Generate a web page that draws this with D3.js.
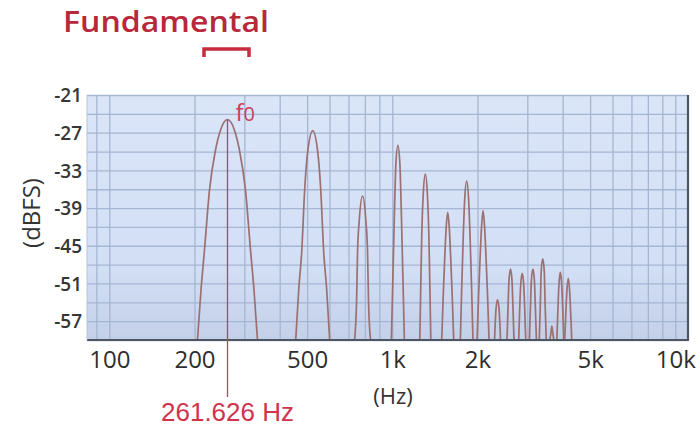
<!DOCTYPE html>
<html>
<head>
<meta charset="utf-8">
<script src="https://cdn.jsdelivr.net/npm/d3@7"></script>
<style>
  html, body { margin: 0; padding: 0; background: #ffffff; }
  svg { display: block; }
</style>
</head>
<body>
<svg id="chart" width="699" height="429"></svg>
<script>
// ---------- data ----------
const xTickValues = [100, 200, 500, 1000, 2000, 5000, 10000];
const xTickLabels = ["100", "200", "500", "1k", "2k", "5k", "10k"];
const yTickValues = [-21, -27, -33, -39, -45, -51, -57];
const yTickLabels = ["-21", "-27", "-33", "-39", "-45", "-51", "-57"];

const fundamentalHz = 261.626;
const fundamentalPeakDb = -24.9;
const fundamentalLabel = "261.626 Hz";
const titleText = "Fundamental";
const xAxisTitle = "(Hz)";
const yAxisTitle = "(dBFS)";

// spectrum peaks: [frequency Hz, level dBFS]
const peak1 = [[204.9,-60],[210.9,-52],[216.9,-45.7],[226.0,-36.1],[237.2,-29.8],[247.1,-26.6],[261.6,-24.9],[276.9,-26.6],[288.4,-29.8],[302.8,-36.1],[315.5,-45.7],[324.5,-52],[333.9,-60]];
const peak2 = [[455.7,-60],[467.0,-52],[478.5,-46],[490.3,-36],[502.4,-30],[523.3,-26.7],[545.0,-30],[558.5,-36],[572.3,-46],[586.4,-52],[600.9,-60]];
const peak3 = [[735.5,-60],[747.6,-54],[753.7,-46],[764.2,-41],[784.9,-37.1],[806.4,-41],[817.6,-46],[824.3,-54],[837.8,-60]];
const peak4 = [[992.6,-60],[1004.8,-50],[1017.1,-40],[1029.6,-32],[1046.5,-29.0],[1063.7,-32],[1076.7,-40],[1090.0,-50],[1103.3,-60]];
const peak5 = [[1250.8,-60],[1261.1,-51],[1271.4,-43],[1287.0,-36.6],[1308.1,-33.6],[1329.6,-36.6],[1345.9,-43],[1356.9,-51],[1368.0,-60]];
const peak6 = [[1495.0,-60],[1513.3,-53],[1532.0,-47],[1550.8,-42],[1569.8,-39.7],[1589.1,-42],[1608.6,-47],[1628.4,-53],[1648.3,-60]];
const peak7 = [[1739.8,-60],[1758.4,-52],[1779.9,-44],[1801.9,-37.7],[1831.4,-34.7],[1861.4,-37.7],[1884.3,-44],[1907.5,-52],[1927.8,-60]];
const peak8 = [[1993.3,-60],[2017.7,-53],[2042.5,-47],[2067.6,-42],[2093.0,-39.4],[2118.7,-42],[2144.7,-47],[2171.1,-53],[2197.7,-60]];
const peak9 = [[2297.8,-60],[2326.0,-55],[2354.6,-53.6],[2383.5,-55],[2412.8,-60]];
const peak10 = [[2542.8,-60],[2563.6,-55],[2584.5,-50.5],[2616.3,-48.7],[2648.4,-50.5],[2670.1,-55],[2691.9,-60]];
const peak11 = [[2797.0,-60],[2819.9,-55],[2843.0,-51.2],[2877.9,-49.4],[2913.2,-51.2],[2937.0,-55],[2961.1,-60]];
const peak12 = [[3051.3,-60],[3076.3,-55],[3101.4,-50.5],[3139.5,-48.7],[3178.1,-50.5],[3204.0,-55],[3230.2,-60]];
const peak13 = [[3305.5,-60],[3332.6,-55],[3359.8,-49],[3401.1,-47.1],[3442.9,-49],[3471.0,-55],[3499.4,-60]];
const peak14 = [[3603.7,-60],[3633.1,-59],[3662.8,-57.8],[3692.7,-59],[3722.9,-60]];
const peak15 = [[3814.2,-60],[3845.4,-55.5],[3876.8,-51.5],[3924.4,-49.2],[3972.6,-51.5],[4005.1,-55.5],[4037.8,-60]];
const peak16 = [[4068.4,-60],[4101.7,-56],[4135.2,-52.5],[4186.0,-50.2],[4237.4,-52.5],[4272.0,-56],[4306.9,-60]];
const peaks = [peak1, peak2, peak3, peak4, peak5, peak6, peak7, peak8, peak9, peak10, peak11, peak12, peak13, peak14, peak15, peak16];

// ---------- layout ----------
const plot = { left: 87, right: 688, top: 95, bottom: 340 };
const xDomain = [83.4, 11090];
const yDomain = [-60, -21];

const svg = d3.select("#chart");
const x = d3.scaleLog().domain(xDomain).range([plot.left, plot.right]);
const y = d3.scaleLinear().domain(yDomain).range([plot.bottom, plot.top]);

const defs = svg.append("defs");
const grad = defs.append("linearGradient").attr("id", "bg").attr("x1", 0).attr("y1", 0).attr("x2", 0).attr("y2", 1);
grad.append("stop").attr("offset", "0%").attr("stop-color", "#dae5f8");
grad.append("stop").attr("offset", "70%").attr("stop-color", "#d3dff5");
grad.append("stop").attr("offset", "100%").attr("stop-color", "#c3d0e8");
defs.append("clipPath").attr("id", "clip").append("rect")
  .attr("x", plot.left).attr("y", plot.top)
  .attr("width", plot.right - plot.left).attr("height", plot.bottom - plot.top);

// background
svg.append("rect")
  .attr("x", plot.left).attr("y", plot.top)
  .attr("width", plot.right - plot.left).attr("height", plot.bottom - plot.top)
  .attr("fill", "url(#bg)");

// grid
const gridColor = "#a5b6d2";
const gx = svg.append("g").attr("transform", `translate(0,${plot.bottom})`)
  .call(d3.axisBottom(x).tickValues(x.ticks()).tickSize(-(plot.bottom - plot.top)).tickFormat(""));
gx.select(".domain").remove();
gx.selectAll("line").attr("stroke", gridColor).attr("stroke-width", 1.3);

const gy = svg.append("g").attr("transform", `translate(${plot.left},0)`)
  .call(d3.axisLeft(y).tickValues(d3.range(yDomain[0], yDomain[1] + 1, 3)).tickSize(-(plot.right - plot.left)).tickFormat(""));
gy.select(".domain").remove();
gy.selectAll("line").attr("stroke", gridColor).attr("stroke-width", 1.3);

// spectrum
const line = d3.line().x(d => x(d[0])).y(d => y(d[1])).curve(d3.curveMonotoneX);
svg.append("g").attr("clip-path", "url(#clip)")
  .selectAll("path").data(peaks).join("path")
  .attr("d", line)
  .attr("fill", "none")
  .attr("stroke", "#9c6f71")
  .attr("stroke-width", 1.7)
  .attr("stroke-linejoin", "round");

// frame
svg.append("line").attr("x1", plot.left).attr("x2", plot.right + 1)
  .attr("y1", plot.bottom).attr("y2", plot.bottom)
  .attr("stroke", "#4e5663").attr("stroke-width", 2.2);
svg.append("line").attr("x1", plot.right).attr("x2", plot.right)
  .attr("y1", plot.top).attr("y2", plot.bottom)
  .attr("stroke", "#4e5663").attr("stroke-width", 2.2);
svg.append("line").attr("x1", plot.left).attr("x2", plot.left)
  .attr("y1", plot.top).attr("y2", plot.bottom)
  .attr("stroke", "#b8c4d8").attr("stroke-width", 1);

// fundamental marker
const fx = x(fundamentalHz);
svg.append("line").attr("x1", fx).attr("x2", fx)
  .attr("y1", y(fundamentalPeakDb)).attr("y2", 397)
  .attr("stroke", "#d23a52").attr("stroke-width", 1.3);
svg.append("text").attr("x", fx).attr("y", 421)
  .attr("text-anchor", "middle")
  .attr("font-family", "'Liberation Sans', Arial, sans-serif")
  .attr("font-size", 26).attr("fill", "#d0344c")
  .text(fundamentalLabel);

const f0 = svg.append("text").attr("x", fx + 8).attr("y", 121)
  .attr("font-family", "'Open Sans', sans-serif")
  .attr("font-size", 24).attr("fill", "#c8405a");
f0.append("tspan").text("f");
f0.append("tspan").attr("font-size", 20).text("0");

// axes labels
const xa = svg.append("g").attr("transform", `translate(0,${plot.bottom})`)
  .call(d3.axisBottom(x).tickValues(xTickValues).tickSize(0).tickPadding(0)
    .tickFormat((d, i) => xTickLabels[i]));
xa.select(".domain").remove();
xa.selectAll("text")
  .attr("y", 28).attr("dy", 0)
  .attr("font-family", "'Open Sans', sans-serif")
  .attr("font-size", 24).attr("fill", "#2e2e2e");

const ya = svg.append("g").attr("transform", `translate(${plot.left},0)`)
  .call(d3.axisLeft(y).tickValues(yTickValues).tickSize(0).tickPadding(5)
    .tickFormat((d, i) => yTickLabels[i]));
ya.select(".domain").remove();
ya.selectAll("text")
  .attr("dy", "0.36em")
  .attr("font-family", "'Open Sans', sans-serif")
  .attr("font-weight", 600)
  .attr("font-size", 19).attr("fill", "#363636");

svg.append("text").attr("x", 393).attr("y", 404)
  .attr("text-anchor", "middle")
  .attr("font-family", "'Open Sans', sans-serif")
  .attr("font-size", 22).attr("fill", "#333333")
  .text(xAxisTitle);

svg.append("text")
  .attr("transform", "translate(40,213) rotate(-90)")
  .attr("text-anchor", "middle")
  .attr("font-family", "'Open Sans', sans-serif")
  .attr("font-size", 24).attr("fill", "#333333")
  .text(yAxisTitle);

// title + bracket
svg.append("text").attr("x", 63).attr("y", 32)
  .attr("font-family", "'Open Sans', sans-serif")
  .attr("font-size", 29).attr("font-weight", 600).attr("fill", "#b8283a")
  .attr("textLength", 206).attr("lengthAdjust", "spacingAndGlyphs")
  .text(titleText);
svg.append("path")
  .attr("d", "M204,57 V49 H249 V57")
  .attr("fill", "none").attr("stroke", "#c82b40").attr("stroke-width", 3.5);
</script>
</body>
</html>
